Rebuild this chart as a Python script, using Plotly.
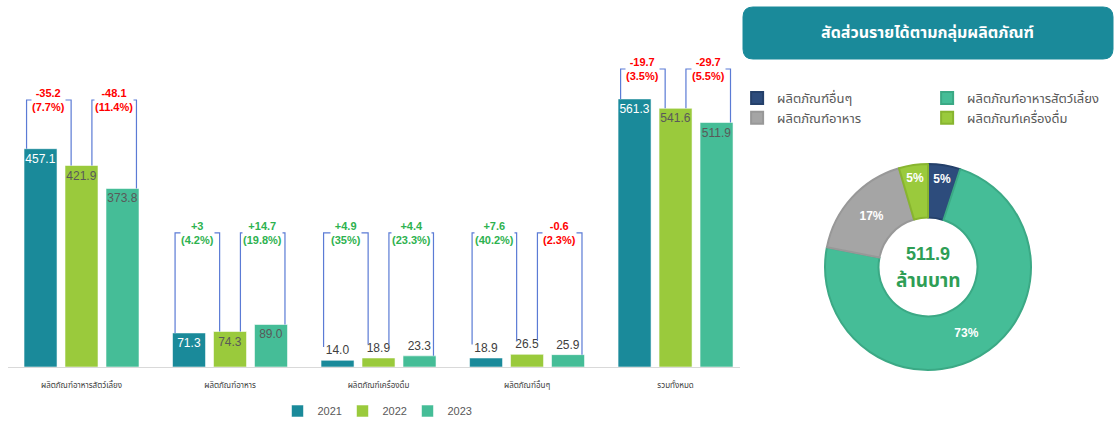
import plotly.graph_objects as go

# ---------------- data ----------------
categories = ['ผลิตภัณฑ์อาหารสัตว์เลี้ยง', 'ผลิตภัณฑ์อาหาร', 'ผลิตภัณฑ์เครื่องดื่ม', 'ผลิตภัณฑ์อื่นๆ', 'รวมทั้งหมด']
years = ['2021', '2022', '2023']
v2021 = [457.1, 71.3, 14.0, 18.9, 561.3]
v2022 = [421.9, 74.3, 18.9, 26.5, 541.6]
v2023 = [373.8, 89.0, 23.3, 25.9, 511.9]

share_labels = ['ผลิตภัณฑ์อื่นๆ', 'ผลิตภัณฑ์อาหารสัตว์เลี้ยง', 'ผลิตภัณฑ์อาหาร', 'ผลิตภัณฑ์เครื่องดื่ม']
share_values = [v2023[3], v2023[0], v2023[1], v2023[2]]
share_total = v2023[4]

chart_title = 'สัดส่วนรายได้ตามกลุ่มผลิตภัณฑ์'
unit_label = 'ล้านบาท'

# ---------------- style ----------------
W, H = 1117, 421
bar_colors = ['#1A8A9A', '#9ACA3C', '#45BD97']
inside_text_colors = ['#FFFFFF', '#595959', '#595959']
outside_text_color = '#404040'
share_colors = ['#2D4C7C', '#45BD97', '#A5A5A5', '#9ACA3C']
share_line_colors = ['#24406A', '#3BA985', '#989898', '#88B52F']
bracket_top = [559, 281, 281, 281, 624]
bracket_offsets = [(-0.37, -0.07), (0.07, 0.37)]
label_room = 28
FONT = 'Tahoma, "Noto Sans Thai", "Leelawadee UI", Arial, sans-serif'
NUMFONT = 'Arial, "Liberation Sans", sans-serif'

fig = go.Figure()
xs = list(range(len(categories)))
series = [v2021, v2022, v2023]

for vals, name, col, tcol in zip(series, years, bar_colors, inside_text_colors):
    pos = ['inside' if v > 50 else 'outside' for v in vals]
    fig.add_trace(go.Bar(
        x=xs, y=vals, name=name,
        marker=dict(color=col, line=dict(color='rgba(255,255,255,0.55)', width=1)),
        text=[f'{v:.1f}' for v in vals], textposition=pos,
        insidetextanchor='end', textangle=0, constraintext='none',
        insidetextfont=dict(color=tcol, size=12, family=NUMFONT),
        outsidetextfont=dict(color=outside_text_color, size=12, family=NUMFONT),
        cliponaxis=False, legend='legend', hoverinfo='skip'))

# brackets with change annotations
shapes = []
annotations = []
for i in xs:
    for j, (o1, o2) in enumerate(bracket_offsets):
        a = series[j][i]
        b = series[j + 1][i]
        yb1 = a if a > 50 else a + label_room
        yb2 = b if (b > 50 or j == 1) else b + label_room
        xl, xr = i + o1, i + o2
        top = bracket_top[i]
        shapes.append(dict(type='path', xref='x', yref='y',
                           path=f'M {xl},{yb1} L {xl},{top} L {xr},{top} L {xr},{yb2}',
                           line=dict(color='#5B7BD5', width=1.2), layer='above'))
        d = round(b - a, 1)
        pct = round(abs(d) / a * 100, 1)
        sign = '+' if d > 0 else ''
        color = '#2EB24F' if d > 0 else '#FF0000'
        annotations.append(dict(x=(xl + xr) / 2, y=top, xref='x', yref='y',
                                xanchor='center', yanchor='middle',
                                text=f'<b>{sign}{d:g}<br>({pct:g}%)</b>', showarrow=False,
                                font=dict(color=color, size=11, family=NUMFONT),
                                bgcolor='white', borderpad=0, align='center'))

# donut
pie_cx, pie_cy, pie_r = 928, 267, 103
fig.add_trace(go.Pie(
    labels=share_labels, values=share_values, sort=False, direction='clockwise', rotation=0,
    hole=0.48,
    marker=dict(colors=share_colors, line=dict(color=share_line_colors, width=2)),
    texttemplate='<b>%{percent:.0%}</b>', textposition='inside',
    insidetextorientation='horizontal',
    textfont=dict(color='white', size=12, family=NUMFONT),
    domain=dict(x=[(pie_cx - pie_r) / W, (pie_cx + pie_r) / W],
                y=[(H - pie_cy - pie_r) / H, (H - pie_cy + pie_r) / H]),
    legend='legend2', hoverinfo='skip'))

annotations.append(dict(x=pie_cx / W, y=1 - 254 / H, xref='paper', yref='paper',
                        xanchor='center', yanchor='middle',
                        text=f'<b>{share_total:.1f}</b>', showarrow=False,
                        font=dict(color='#2E9E55', size=18, family=NUMFONT)))
annotations.append(dict(x=pie_cx / W, y=1 - 281 / H, xref='paper', yref='paper',
                        xanchor='center', yanchor='middle',
                        text=f'<b>{unit_label}</b>', showarrow=False,
                        font=dict(color='#2E9E55', size=19, family=FONT)))

# title box
x0, x1 = 743 / W, 1113 / W
yt, yb = 1 - 7 / H, 1 - 59 / H
rx, ry = 10 / W, 10 / H
shapes.append(dict(type='path', xref='paper', yref='paper',
                   path=(f'M {x0+rx},{yt} L {x1-rx},{yt} Q {x1},{yt} {x1},{yt-ry} '
                         f'L {x1},{yb+ry} Q {x1},{yb} {x1-rx},{yb} L {x0+rx},{yb} '
                         f'Q {x0},{yb} {x0},{yb+ry} L {x0},{yt-ry} Q {x0},{yt} {x0+rx},{yt} Z'),
                   fillcolor='#1A8A9A', line=dict(color='#1A8A9A', width=1), layer='below'))
annotations.append(dict(x=(x0 + x1) / 2, y=(yt + yb) / 2, xref='paper', yref='paper',
                        xanchor='center', yanchor='middle',
                        text=f'<b>{chart_title}</b>', showarrow=False,
                        font=dict(color='white', size=16, family=FONT)))

px_per_unit = 0.4776
base_px = 367
fig.update_layout(
    width=W, height=H,
    margin=dict(l=0, r=0, t=0, b=0, autoexpand=False),
    paper_bgcolor='white', plot_bgcolor='white',
    barmode='group', bargap=0.172, bargroupgap=0.195,
    font=dict(family=FONT, color='#404040'),
    xaxis=dict(domain=[8 / W, 740 / W], range=[-0.495, 4.434],
               tickvals=xs, ticktext=categories, tickfont=dict(size=8, color='#404040'),
               showgrid=False, zeroline=False, showline=True, linecolor='#D9D9D9', linewidth=1,
               ticks='', ticklabelstandoff=10),
    yaxis=dict(domain=[(H - base_px) / H, 1], range=[0, base_px / px_per_unit],
               visible=False, showgrid=False, zeroline=False),
    legend=dict(orientation='h', x=375 / W, xanchor='center', y=(H - 411) / H, yanchor='middle',
                font=dict(size=11, color='#595959', family=NUMFONT), itemwidth=30,
                entrywidth=20, bgcolor='rgba(0,0,0,0)'),
    legend2=dict(orientation='h', x=1.0001, xanchor='right', y=1 - 83 / H, yanchor='top',
                 entrywidth=145, font=dict(size=13, color='#595959'), itemwidth=30,
                 bgcolor='rgba(0,0,0,0)'),
    shapes=shapes, annotations=annotations,
    showlegend=True,
)

fig.write_html('out.html', config={'displayModeBar': False},
               post_script="document.body.style.margin='0px';")
